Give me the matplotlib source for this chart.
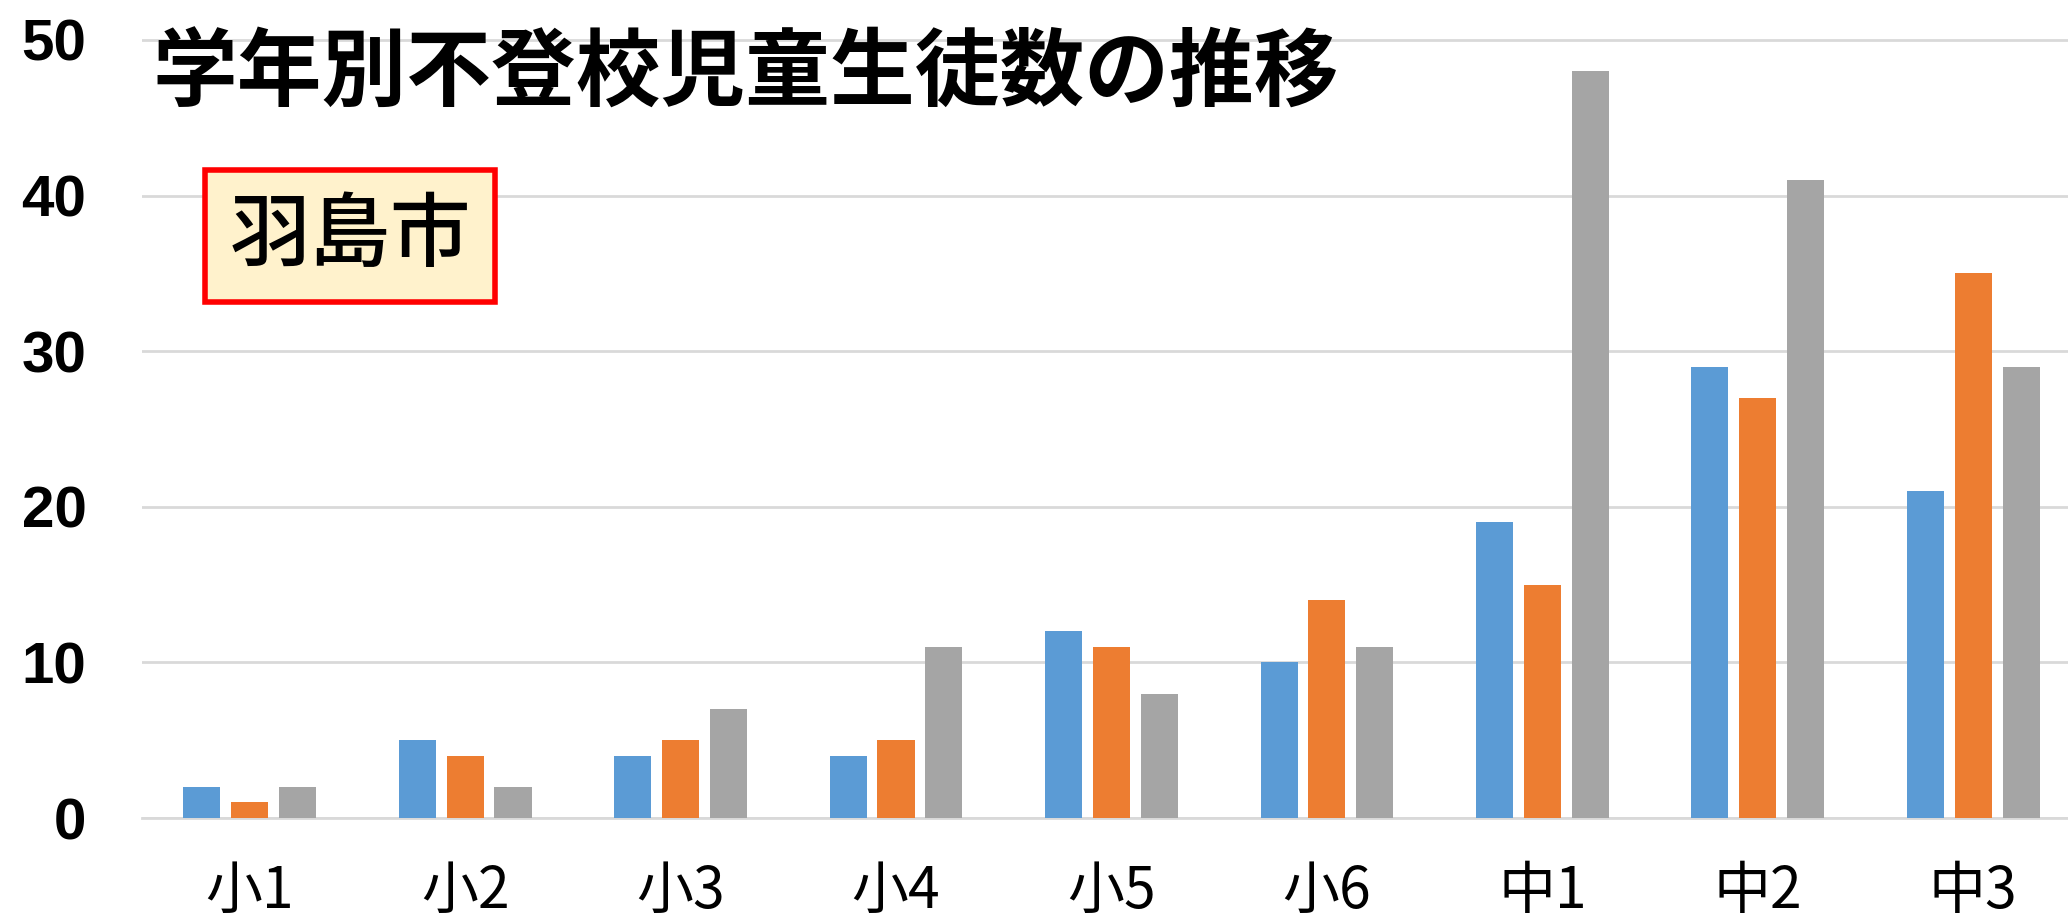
import matplotlib

matplotlib.use("Agg")
import matplotlib.pyplot as plt  # noqa: E402
import numpy as np  # noqa: E402

# grade-level counts of long-term absentees, three consecutive survey years
GRADES = ["小1", "小2", "小3", "小4", "小5", "小6", "中1", "中2", "中3"]
YEAR_A = [2, 5, 4, 4, 12, 10, 19, 29, 21]
YEAR_B = [1, 4, 5, 5, 11, 14, 15, 27, 35]
YEAR_C = [2, 2, 7, 11, 8, 11, 48, 41, 29]
YTICKS = [0, 10, 20, 30, 40, 50]

TITLE = "学年別不登校児童生徒数の推移"
CITY = "羽島市"

COLORS = ["#5B9BD5", "#ED7D31", "#A5A5A5"]
CJK = ["Noto Sans CJK JP", "DejaVu Sans"]

W, H = 2068, 922
fig = plt.figure(figsize=(W / 100, H / 100), dpi=100)
ax = fig.add_axes([142 / W, 1 - 818 / H, 1 - 142 / W, 818 / H])

x = np.arange(len(GRADES))
bw, off = 0.172, 0.222
for k, vals in enumerate([YEAR_A, YEAR_B, YEAR_C]):
    ax.bar(x + (k - 1) * off, vals, width=bw, color=COLORS[k], zorder=3)

ax.set_xlim(-0.5, 8.44)
ax.set_ylim(0, 52.57)
ax.set_yticks(YTICKS)
ax.set_yticklabels([str(v) for v in YTICKS], family="Liberation Sans",
                   fontsize=42, fontweight="bold")
ax.set_xticks(x)
ax.set_xticklabels(GRADES, family=CJK, fontsize=41)
ax.tick_params(axis="y", length=0, pad=40)
ax.tick_params(axis="x", length=0, pad=32)
ax.grid(axis="y", color="#D9D9D9", lw=2, zorder=0)
for s in ["top", "right", "left"]:
    ax.spines[s].set_visible(False)
ax.spines["bottom"].set_color("#D9D9D9")
ax.spines["bottom"].set_linewidth(2)

fig.text(152 / W, 1 - 74 / H, TITLE, family=CJK, fontsize=61, fontweight="bold",
         ha="left", va="center")
fig.text(350 / W, 1 - 236 / H, CITY, family=CJK, fontsize=58, fontweight="medium",
         ha="center", va="center",
         bbox=dict(boxstyle="square,pad=0.3", fc="#FFF2CC", ec="#FF0000", lw=4))

fig.savefig("out.png", dpi=100)
